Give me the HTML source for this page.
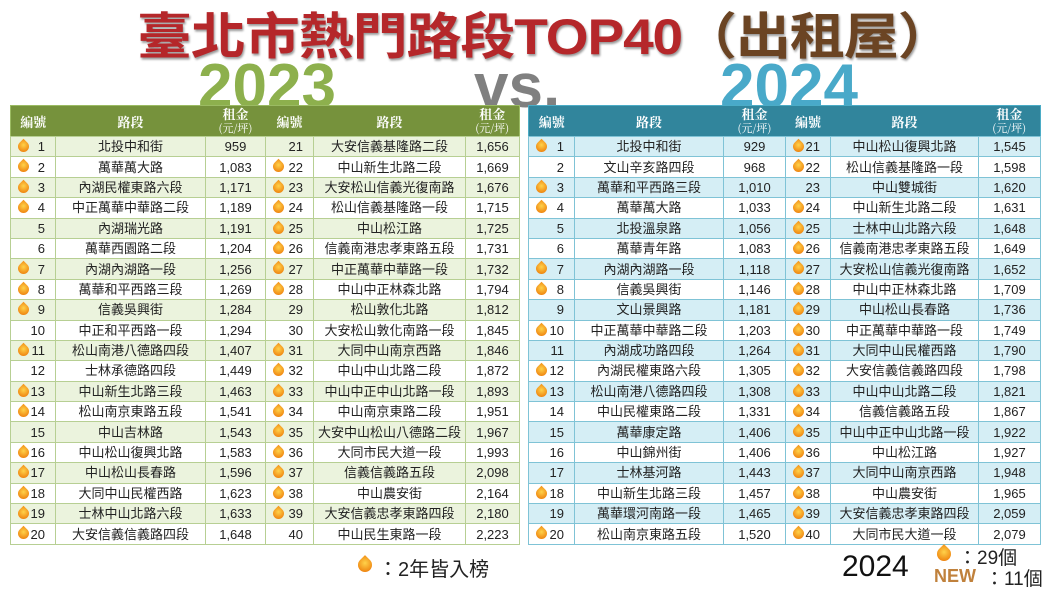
<!DOCTYPE html>
<html><head><meta charset="utf-8">
<style>
body{margin:0;width:1050px;height:591px;background:#fff;position:relative;overflow:hidden;font-family:"Liberation Sans","Noto Sans CJK TC",sans-serif;}
.t{position:absolute;white-space:nowrap;}
table{position:absolute;border-collapse:collapse;table-layout:fixed;font-size:13px;color:#222;}
td,th{padding:0;text-align:center;overflow:hidden;white-space:nowrap;}
td{height:19.4px;line-height:17px;}
th{color:#fff;font-weight:bold;font-size:13px;height:30px;line-height:13px;font-family:"Noto Serif CJK SC","Liberation Serif",serif;}
th small{font-size:11px;font-weight:normal;}
#L{left:10px;top:105px;width:509px;border:1px solid #9bbb63;}
#L th{background:#76923c;}
#L td{border:1px solid #b7cf93;}
#L tr:nth-child(odd) td{background:#ebf3dd;}
#R{left:528px;top:105px;width:512px;border:1px solid #4bacc6;}
#R th{background:#31859c;}
#R td{border:1px solid #7fc3d6;}
#R tr:nth-child(odd) td{background:#d5eef5;}
td.n{position:relative;text-align:right;padding-right:10px;}
.f::before{content:"";position:absolute;left:7px;top:4px;width:11px;height:11px;border-radius:50% 0 50% 50%;transform:rotate(-45deg);background:radial-gradient(circle at 60% 40%,#ffd24a,#f08a14 70%,#d5640a);}
.fl{position:absolute;width:14px;height:14px;border-radius:50% 0 50% 50%;transform:rotate(-45deg);background:radial-gradient(circle at 60% 40%,#ffd24a,#f08a14 70%,#d5640a);}
</style></head><body>
<div class="t" style="left:137px;top:-3px;font-size:50px;font-weight:bold;color:#b5272a;letter-spacing:-1px;text-shadow:1px 2px 2px #999;transform:scaleX(1.1);transform-origin:left;">臺北市熱門路段TOP40<span style="color:#6b4423">（出租屋）</span></div>
<div class="t" style="left:198px;top:51px;font-size:62px;font-weight:bold;color:#8db04d;">2023</div>
<div class="t" style="left:474px;top:51px;font-size:62px;font-weight:bold;color:#808080;">vs.</div>
<div class="t" style="left:720px;top:51px;font-size:62px;font-weight:bold;color:#49a9c9;">2024</div>

<table id="L">
<colgroup><col style="width:45px"><col style="width:150px"><col style="width:60px"><col style="width:48px"><col style="width:152px"><col style="width:54px"></colgroup>
<thead><tr><th>編號</th><th>路段</th><th>租金<br><small>(元/坪)</small></th><th>編號</th><th>路段</th><th>租金<br><small>(元/坪)</small></th></tr></thead>
<tbody>
<tr><td class="n f">1</td><td>北投中和街</td><td>959</td><td class="n">21</td><td>大安信義基隆路二段</td><td>1,656</td></tr>
<tr><td class="n f">2</td><td>萬華萬大路</td><td>1,083</td><td class="n f">22</td><td>中山新生北路二段</td><td>1,669</td></tr>
<tr><td class="n f">3</td><td>內湖民權東路六段</td><td>1,171</td><td class="n f">23</td><td>大安松山信義光復南路</td><td>1,676</td></tr>
<tr><td class="n f">4</td><td>中正萬華中華路二段</td><td>1,189</td><td class="n f">24</td><td>松山信義基隆路一段</td><td>1,715</td></tr>
<tr><td class="n">5</td><td>內湖瑞光路</td><td>1,191</td><td class="n f">25</td><td>中山松江路</td><td>1,725</td></tr>
<tr><td class="n">6</td><td>萬華西園路二段</td><td>1,204</td><td class="n f">26</td><td>信義南港忠孝東路五段</td><td>1,731</td></tr>
<tr><td class="n f">7</td><td>內湖內湖路一段</td><td>1,256</td><td class="n f">27</td><td>中正萬華中華路一段</td><td>1,732</td></tr>
<tr><td class="n f">8</td><td>萬華和平西路三段</td><td>1,269</td><td class="n f">28</td><td>中山中正林森北路</td><td>1,794</td></tr>
<tr><td class="n f">9</td><td>信義吳興街</td><td>1,284</td><td class="n">29</td><td>松山敦化北路</td><td>1,812</td></tr>
<tr><td class="n">10</td><td>中正和平西路一段</td><td>1,294</td><td class="n">30</td><td>大安松山敦化南路一段</td><td>1,845</td></tr>
<tr><td class="n f">11</td><td>松山南港八德路四段</td><td>1,407</td><td class="n f">31</td><td>大同中山南京西路</td><td>1,846</td></tr>
<tr><td class="n">12</td><td>士林承德路四段</td><td>1,449</td><td class="n f">32</td><td>中山中山北路二段</td><td>1,872</td></tr>
<tr><td class="n f">13</td><td>中山新生北路三段</td><td>1,463</td><td class="n f">33</td><td>中山中正中山北路一段</td><td>1,893</td></tr>
<tr><td class="n f">14</td><td>松山南京東路五段</td><td>1,541</td><td class="n f">34</td><td>中山南京東路二段</td><td>1,951</td></tr>
<tr><td class="n">15</td><td>中山吉林路</td><td>1,543</td><td class="n f">35</td><td>大安中山松山八德路二段</td><td>1,967</td></tr>
<tr><td class="n f">16</td><td>中山松山復興北路</td><td>1,583</td><td class="n f">36</td><td>大同市民大道一段</td><td>1,993</td></tr>
<tr><td class="n f">17</td><td>中山松山長春路</td><td>1,596</td><td class="n f">37</td><td>信義信義路五段</td><td>2,098</td></tr>
<tr><td class="n f">18</td><td>大同中山民權西路</td><td>1,623</td><td class="n f">38</td><td>中山農安街</td><td>2,164</td></tr>
<tr><td class="n f">19</td><td>士林中山北路六段</td><td>1,633</td><td class="n f">39</td><td>大安信義忠孝東路四段</td><td>2,180</td></tr>
<tr><td class="n f">20</td><td>大安信義信義路四段</td><td>1,648</td><td class="n">40</td><td>中山民生東路一段</td><td>2,223</td></tr>
</tbody></table>

<table id="R">
<colgroup><col style="width:46px"><col style="width:149px"><col style="width:62px"><col style="width:45px"><col style="width:148px"><col style="width:62px"></colgroup>
<thead><tr><th>編號</th><th>路段</th><th>租金<br><small>(元/坪)</small></th><th>編號</th><th>路段</th><th>租金<br><small>(元/坪)</small></th></tr></thead>
<tbody>
<tr><td class="n f">1</td><td>北投中和街</td><td>929</td><td class="n f">21</td><td>中山松山復興北路</td><td>1,545</td></tr>
<tr><td class="n">2</td><td>文山辛亥路四段</td><td>968</td><td class="n f">22</td><td>松山信義基隆路一段</td><td>1,598</td></tr>
<tr><td class="n f">3</td><td>萬華和平西路三段</td><td>1,010</td><td class="n">23</td><td>中山雙城街</td><td>1,620</td></tr>
<tr><td class="n f">4</td><td>萬華萬大路</td><td>1,033</td><td class="n f">24</td><td>中山新生北路二段</td><td>1,631</td></tr>
<tr><td class="n">5</td><td>北投溫泉路</td><td>1,056</td><td class="n f">25</td><td>士林中山北路六段</td><td>1,648</td></tr>
<tr><td class="n">6</td><td>萬華青年路</td><td>1,083</td><td class="n f">26</td><td>信義南港忠孝東路五段</td><td>1,649</td></tr>
<tr><td class="n f">7</td><td>內湖內湖路一段</td><td>1,118</td><td class="n f">27</td><td>大安松山信義光復南路</td><td>1,652</td></tr>
<tr><td class="n f">8</td><td>信義吳興街</td><td>1,146</td><td class="n f">28</td><td>中山中正林森北路</td><td>1,709</td></tr>
<tr><td class="n">9</td><td>文山景興路</td><td>1,181</td><td class="n f">29</td><td>中山松山長春路</td><td>1,736</td></tr>
<tr><td class="n f">10</td><td>中正萬華中華路二段</td><td>1,203</td><td class="n f">30</td><td>中正萬華中華路一段</td><td>1,749</td></tr>
<tr><td class="n">11</td><td>內湖成功路四段</td><td>1,264</td><td class="n f">31</td><td>大同中山民權西路</td><td>1,790</td></tr>
<tr><td class="n f">12</td><td>內湖民權東路六段</td><td>1,305</td><td class="n f">32</td><td>大安信義信義路四段</td><td>1,798</td></tr>
<tr><td class="n f">13</td><td>松山南港八德路四段</td><td>1,308</td><td class="n f">33</td><td>中山中山北路二段</td><td>1,821</td></tr>
<tr><td class="n">14</td><td>中山民權東路二段</td><td>1,331</td><td class="n f">34</td><td>信義信義路五段</td><td>1,867</td></tr>
<tr><td class="n">15</td><td>萬華康定路</td><td>1,406</td><td class="n f">35</td><td>中山中正中山北路一段</td><td>1,922</td></tr>
<tr><td class="n">16</td><td>中山錦州街</td><td>1,406</td><td class="n f">36</td><td>中山松江路</td><td>1,927</td></tr>
<tr><td class="n">17</td><td>士林基河路</td><td>1,443</td><td class="n f">37</td><td>大同中山南京西路</td><td>1,948</td></tr>
<tr><td class="n f">18</td><td>中山新生北路三段</td><td>1,457</td><td class="n f">38</td><td>中山農安街</td><td>1,965</td></tr>
<tr><td class="n">19</td><td>萬華環河南路一段</td><td>1,465</td><td class="n f">39</td><td>大安信義忠孝東路四段</td><td>2,059</td></tr>
<tr><td class="n f">20</td><td>松山南京東路五段</td><td>1,520</td><td class="n f">40</td><td>大同市民大道一段</td><td>2,079</td></tr>
</tbody></table>

<div class="fl" style="left:358px;top:558px;"></div>
<div class="t" style="left:378px;top:553px;font-size:20px;color:#222;">：2年皆入榜</div>
<div class="t" style="left:842px;top:550px;font-size:30px;color:#111;">2024</div>
<div class="fl" style="left:937px;top:547px;"></div>
<div class="t" style="left:958px;top:543px;font-size:19px;color:#222;">：29個</div>
<div class="t" style="left:934px;top:566px;font-size:18px;font-weight:bold;color:#c0813c;">NEW</div>
<div class="t" style="left:985px;top:564px;font-size:19px;color:#222;">：11個</div>
</body></html>
